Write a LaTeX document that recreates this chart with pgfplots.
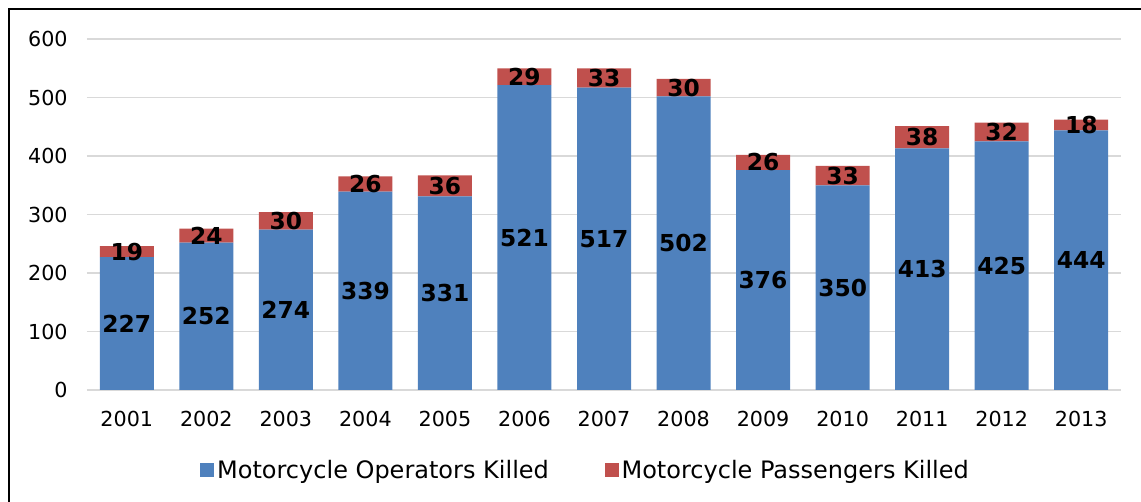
\documentclass[border=0pt]{standalone}
\usepackage{fontspec}
\setmainfont{DejaVu Sans}
\usepackage{pgfplots}
\pgfplotsset{compat=1.18}
\definecolor{opblue}{HTML}{4F81BD}
\definecolor{pared}{HTML}{C0504D}
\definecolor{gridgray}{HTML}{D9D9D9}

\begin{document}
\begin{tikzpicture}
\useasboundingbox (0pt,0pt) rectangle (855.75pt,376.5pt);
\draw[line width=1.5pt] (6.75pt,-10pt) -- (6.75pt,369.75pt) -- (870pt,369.75pt);
\begin{axis}[
  at={(65.25pt,84pt)}, anchor=south west,
  scale only axis, width=775.5pt, height=263.25pt,
  ybar stacked, bar width=40.5pt,
  xmin=-0.5, xmax=12.5, ymin=0, ymax=600,
  xtick={0,...,12},
  xticklabels={2001,2002,2003,2004,2005,2006,2007,2008,2009,2010,2011,2012,2013},
  ytick={0,100,...,600},
  axis x line*=bottom, axis y line*=left,
  axis line style={draw=none},
  major tick length=0pt,
  ymajorgrids, grid style={gridgray, line width=1.1pt},
  tick label style={font=\fontsize{15.5}{18}\selectfont},
  /pgf/number format/assume math mode=true,
  yticklabel style={xshift=-11pt},
  xticklabel style={yshift=-12pt},
  nodes near coords,
  every node near coord/.append style={font=\fontsize{17.5}{20}\selectfont\bfseries, text=black, anchor=center},
  legend style={at={(0.4826,-0.228)}, anchor=center, draw=none, fill=none,
    legend columns=2, font=\fontsize{18}{20}\selectfont,
    /tikz/every even column/.append style={column sep=40pt},
    inner sep=0pt},
  legend image code/.code={\fill[#1] (-2.25pt,-5.25pt) rectangle (8.25pt,5.25pt);},
]
\addplot[fill=opblue, draw=none] coordinates {
 (0,227) (1,252) (2,274) (3,339) (4,331) (5,521) (6,517) (7,502) (8,376) (9,350) (10,413) (11,425) (12,444)};
\addlegendentry{Motorcycle Operators Killed}
\addplot[fill=pared, draw=none] coordinates {
 (0,19) (1,24) (2,30) (3,26) (4,36) (5,29) (6,33) (7,30) (8,26) (9,33) (10,38) (11,32) (12,18)};
\addlegendentry{Motorcycle Passengers Killed}
\end{axis}
\end{tikzpicture}
\end{document}
